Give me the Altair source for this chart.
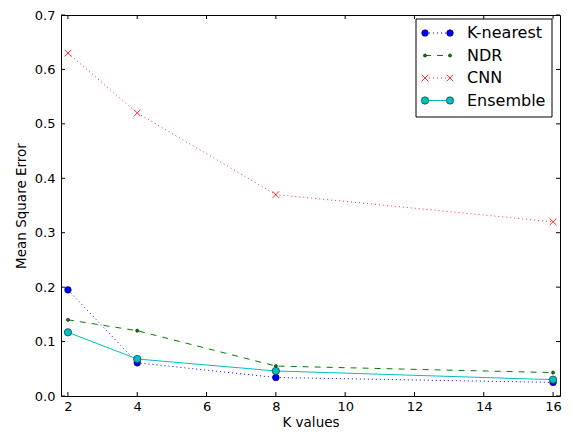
import altair as alt
import pandas as pd

k_values = [2, 4, 8, 16]
series_names = ["K-nearest", "NDR", "CNN", "Ensemble"]
knearest = [0.195, 0.061, 0.034, 0.025]
ndr = [0.140, 0.120, 0.055, 0.043]
cnn = [0.630, 0.520, 0.370, 0.320]
ensemble = [0.117, 0.068, 0.046, 0.030]
x_ticks = [2, 4, 6, 8, 10, 12, 14, 16]
y_ticks = [0.0, 0.1, 0.2, 0.3, 0.4, 0.5, 0.6, 0.7]

W, H = 499, 381
values = {"K-nearest": knearest, "NDR": ndr, "CNN": cnn, "Ensemble": ensemble}
rows = []
for s in series_names:
    for k, v in zip(k_values, values[s]):
        rows.append({"series": s, "k": k, "mse": v})
df = pd.DataFrame(rows)

XSHAPE = "M-1,-1L1,1M1,-1L-1,1"
style = {
    "K-nearest": dict(color="#0000ff", dash=[1, 3], shape="circle", size=45, filled=True),
    "NDR": dict(color="#008000", dash=[6, 6], shape="circle", size=10, filled=True),
    "CNN": dict(color="#ff3030", dash=[1, 3], shape=XSHAPE, size=45, filled=False),
    "Ensemble": dict(color="#00bfbf", dash=[], shape="circle", size=55, filled=True),
}

FONT = "DejaVu Sans"
xs = alt.Scale(domain=[1.8, 16.2], nice=False, zero=False)
ys = alt.Scale(domain=[0, 0.7], nice=False)
xax = alt.Axis(values=x_ticks, ticks=False, domain=False, grid=False, labelFontSize=13,
               labelColor="black", labelPadding=4, titleFontSize=13.5, titleFontWeight="normal",
               titleColor="black", titlePadding=2, labelFont=FONT, titleFont=FONT)
yax = alt.Axis(values=y_ticks, ticks=False, domain=False, grid=False, labelFontSize=13,
               labelColor="black", labelPadding=6, titleFontSize=13.5, titleFontWeight="normal",
               titleColor="black", titlePadding=6, format=".1f", labelFont=FONT,
               titleFont=FONT)


def X(field):
    return alt.X(field, scale=xs, axis=xax, title="K values")


def Y(field):
    return alt.Y(field, scale=ys, axis=yax, title="Mean Square Error")


base = alt.Chart(df)
layers = []
for s in series_names:
    st = style[s]
    line_kwargs = dict(color=st["color"], strokeWidth=1)
    if st["dash"]:
        line_kwargs["strokeDash"] = st["dash"]
    layers.append(base.transform_filter(alt.datum.series == s).mark_line(**line_kwargs)
                  .encode(x=X("k:Q"), y=Y("mse:Q")))


def point_kwargs(st):
    if st["filled"]:
        return dict(shape=st["shape"], size=st["size"], filled=True, fill=st["color"],
                    stroke="black", strokeWidth=0.5, opacity=1)
    return dict(shape=st["shape"], size=st["size"], filled=False, stroke=st["color"],
                strokeWidth=1, opacity=1)


for s in series_names:
    st = style[s]
    layers.append(base.transform_filter(alt.datum.series == s).mark_point(**point_kwargs(st))
                  .encode(x=X("k:Q"), y=Y("mse:Q")))

# inward ticks on all four sides
xt = pd.DataFrame({"k": x_ticks})
yt = pd.DataFrame({"mse": y_ticks})
tl = 4
layers.append(alt.Chart(xt).mark_rule(color="black", strokeWidth=1).encode(
    x=X("k:Q"), y=alt.value(H), y2=alt.value(H - tl)))
layers.append(alt.Chart(xt).mark_rule(color="black", strokeWidth=1).encode(
    x=X("k:Q"), y=alt.value(0), y2=alt.value(tl)))
layers.append(alt.Chart(yt).mark_rule(color="black", strokeWidth=1).encode(
    y=Y("mse:Q"), x=alt.value(0), x2=alt.value(tl)))
layers.append(alt.Chart(yt).mark_rule(color="black", strokeWidth=1).encode(
    y=Y("mse:Q"), x=alt.value(W), x2=alt.value(W - tl)))

# legend
one = alt.Data(values=[{"a": 1}])
lx0, lx1, ly0, ly1 = 355, 491, 4, 102
layers.append(alt.Chart(one).mark_rect(fill="white", stroke="black", strokeWidth=1).encode(
    x=alt.value(lx0), x2=alt.value(lx1), y=alt.value(ly0), y2=alt.value(ly1)))
entry_y = [18, 40.5, 63, 85.5]
sx0, sx1, tx = 364, 389, 406
for s, yy in zip(series_names, entry_y):
    st = style[s]
    rk = dict(color=st["color"], strokeWidth=1)
    if st["dash"]:
        rk["strokeDash"] = st["dash"]
    layers.append(alt.Chart(one).mark_rule(**rk).encode(
        x=alt.value(sx0), x2=alt.value(sx1), y=alt.value(yy)))
    for px in (sx0, sx1):
        layers.append(alt.Chart(one).mark_point(**point_kwargs(st)).encode(
            x=alt.value(px), y=alt.value(yy)))
    layers.append(alt.Chart(one).mark_text(align="left", baseline="middle", fontSize=16,
                                           font=FONT, color="black").encode(
        x=alt.value(tx), y=alt.value(yy), text=alt.value(s)))

chart = alt.layer(*layers).properties(
    width=W, height=H,
    autosize=alt.AutoSizeParams(type="none"),
    padding={"left": 53, "top": 7, "right": 4, "bottom": 35},
).configure(background="white").configure_view(stroke="black", strokeWidth=1)

chart.save("out.html", embed_options={"renderer": "svg", "actions": False})
